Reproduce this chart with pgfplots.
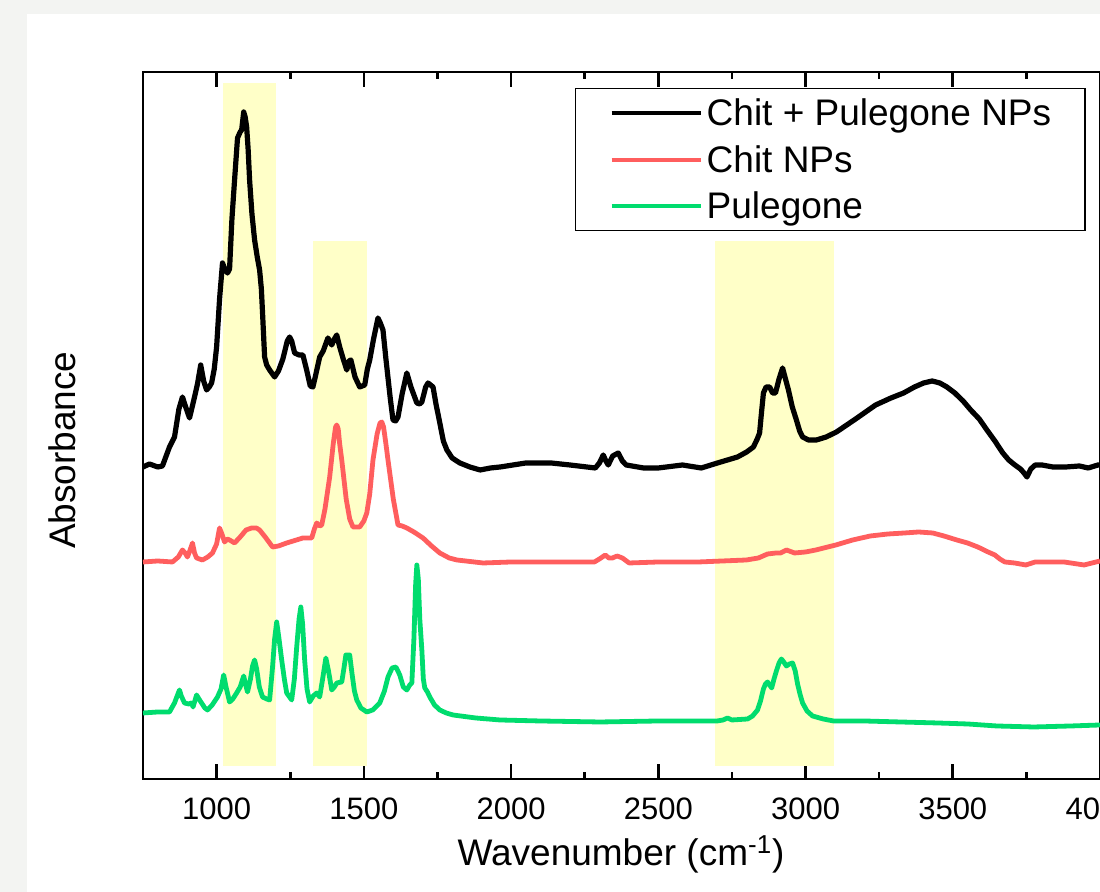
\documentclass[border=0pt]{standalone}
\usepackage{pgfplots}
\pgfplotsset{compat=1.18}
\usepackage{fontspec}
\setmainfont{Liberation Sans}

\definecolor{bggrey}{RGB}{243,244,242}
\definecolor{band}{RGB}{255,255,200}
\definecolor{chitred}{RGB}{255,94,94}
\definecolor{pulgreen}{RGB}{0,220,110}

\begin{document}
\begin{tikzpicture}
\path[use as bounding box] (-71.5pt,-56.5pt) rectangle (478.5pt,389.5pt);
\clip (-71.5pt,-56.5pt) rectangle (478.5pt,389.5pt);
\fill[bggrey] (-71.5pt,-56.5pt) rectangle (478.5pt,389.5pt);
\fill[white] (-58pt,-56.5pt) rectangle (478.5pt,382.5pt);
\begin{axis}[
  at={(0,0)}, anchor=south west,
  scale only axis, width=478.5pt, height=353.5pt,
  xmin=750, xmax=4000, ymin=0, ymax=707,
  axis line style={line width=1.3pt},
  xtick={1000,1500,...,4000}, minor x tick num=1,
  ytick=\empty,
  tick align=inside,
  major tick length=7.5pt, minor tick length=3.5pt,
  every tick/.style={line width=1.3pt, black},
  /pgf/number format/assume math mode=true,
  /pgf/number format/1000 sep={},
  xticklabel style={font=\fontsize{15.5}{18}\selectfont, anchor=base, yshift=-20.5pt},
  xlabel={Wavenumber (cm\textsuperscript{-1})},
  ylabel={Absorbance},
  every axis x label/.style={at={(axis description cs:0.4995,-0.123)}, anchor=base, font=\fontsize{18.5}{22}\selectfont},
  every axis y label/.style={at={(axis description cs:-0.0846,0.465)}, rotate=90, anchor=center, font=\fontsize{18.5}{22}\selectfont},
  legend cell align=left,
  legend image code/.code={\draw[#1, line width=2pt] (0pt,0pt) -- (44.5pt,0pt);},
  legend style={at={(0.4514,0.9774)}, anchor=north west, draw=black, line width=0.75pt,
    font=\fontsize{18.5}{22}\selectfont, inner xsep=17pt, inner ysep=3pt,
    row sep=4.75pt, column sep=2pt,
    nodes={inner sep=0pt, text height=15.5pt, text depth=3pt}},
]
% highlighted regions
\addplot[draw=none, fill=band, forget plot] coordinates {(1020,13) (1020,696) (1200,696) (1200,13)} -- cycle;
\addplot[draw=none, fill=band, forget plot] coordinates {(1326,13) (1326,538) (1510,538) (1510,13)} -- cycle;
\addplot[draw=none, fill=band, forget plot] coordinates {(2692,13) (2692,538) (3098,538) (3098,13)} -- cycle;

% Chit + Pulegone NPs
\addplot[black, line width=2.6pt, line join=round] coordinates {
(750,312) (772,315) (800,312) (816,313) (840,332) (857,342) (872,370) (884,382) (895,372) (908,361)
(917,372) (925,382) (935,395) (946,414) (956,398) (966,389) (975,392) (983,396) (992,410) (1000,432)
(1010,480) (1020,516) (1028,510) (1037,506) (1044,510) (1052,560) (1061,599) (1071,641) (1080,647) (1085,649)
(1092,667) (1097,662) (1102,652) (1107,630) (1112,599) (1120,565) (1129,539) (1138,522) (1146,509) (1152,490)
(1156,466) (1163,422) (1170,414) (1180,409) (1197,402) (1210,408) (1225,420) (1240,438) (1248,442) (1255,438)
(1265,426) (1280,424) (1293,424) (1305,410) (1318,393) (1327,392) (1335,402) (1350,422) (1362,428) (1378,441)
(1391,434) (1400,440) (1408,444) (1418,432) (1430,420) (1442,409) (1450,418) (1456,419) (1470,402) (1486,392)
(1503,394) (1512,410) (1520,419) (1533,440) (1548,461) (1556,456) (1565,449) (1575,420) (1590,380) (1599,359)
(1608,358) (1616,362) (1630,385) (1646,406) (1660,392) (1680,376) (1690,375) (1697,377) (1710,392) (1718,396)
(1735,392) (1745,375) (1758,356) (1770,338) (1782,329) (1800,321) (1826,316) (1860,312) (1895,309) (1930,311)
(1963,312) (2050,316) (2136,316) (2200,314) (2286,311) (2300,316) (2313,324) (2322,318) (2330,314) (2345,323)
(2364,326) (2378,318) (2391,314) (2450,311) (2500,311) (2582,314) (2646,311) (2701,316) (2769,322) (2800,327)
(2823,332) (2836,340) (2844,346) (2850,365) (2857,386) (2866,392) (2878,392) (2888,386) (2898,386) (2910,400)
(2922,411) (2932,400) (2942,389) (2955,372) (2969,359) (2980,348) (2990,342) (3010,339) (3037,339) (3070,342)
(3105,347) (3170,360) (3238,374) (3290,381) (3333,386) (3370,392) (3401,396) (3430,398) (3456,396) (3480,392)
(3507,386) (3535,378) (3561,369) (3590,360) (3616,349) (3643,338) (3670,326) (3690,319) (3711,314) (3730,310)
(3742,306) (3752,302) (3765,310) (3780,314) (3803,314) (3840,312) (3884,312) (3930,313) (3960,311) (3993,314) (4000,314)
};
\addlegendentry{Chit + Pulegone NPs}

% Chit NPs
\addplot[chitred, line width=2.4pt, line join=round] coordinates {
(750,217) (800,218) (850,217) (870,222) (884,229) (893,226) (901,222) (910,229) (918,236) (925,226)
(932,221) (952,219) (970,222) (986,226) (1000,235) (1010,251) (1018,245) (1027,237) (1036,240) (1044,239)
(1061,236) (1080,242) (1100,249) (1119,251) (1135,251) (1146,249) (1165,242) (1190,232) (1210,233) (1238,236)
(1260,238) (1293,241) (1323,241) (1332,250) (1340,256) (1350,253) (1357,254) (1368,270) (1384,302) (1396,335)
(1404,352) (1408,354) (1413,350) (1418,335) (1425,319) (1440,280) (1452,260) (1463,252) (1486,252) (1500,258)
(1510,266) (1520,285) (1531,319) (1545,345) (1555,356) (1561,357) (1567,352) (1575,335) (1582,319) (1600,280)
(1616,254) (1630,253) (1646,251) (1670,247) (1701,241) (1730,233) (1758,226) (1790,221) (1816,219) (1905,216)
(2000,217) (2099,217) (2200,217) (2283,217) (2300,220) (2320,224) (2332,221) (2344,221) (2360,223) (2378,221)
(2401,216) (2500,217) (2636,217) (2799,219) (2840,221) (2871,225) (2900,226) (2915,226) (2935,229) (2963,226)
(3000,227) (3035,229) (3103,234) (3160,239) (3220,243) (3280,245) (3336,246) (3384,247) (3432,246) (3470,243)
(3514,239) (3550,236) (3585,232) (3620,227) (3643,224) (3660,220) (3677,217) (3710,216) (3748,214) (3780,217)
(3806,217) (3878,217) (3946,214) (4000,218)
};
\addlegendentry{Chit NPs}

% Pulegone
\addplot[pulgreen, line width=2.4pt, line join=round] coordinates {
(750,66) (800,67) (840,67) (857,76) (866,83) (874,89) (880,83) (891,76) (905,75) (915,76)
(920,72) (926,78) (932,84) (940,80) (949,76) (960,71) (969,69) (985,74) (1003,82) (1015,90)
(1024,104) (1032,92) (1044,77) (1055,80) (1068,86) (1080,92) (1092,103) (1098,95) (1105,87) (1115,100)
(1122,113) (1129,119) (1136,110) (1145,92) (1156,82) (1170,80) (1180,79) (1190,112) (1197,140) (1204,157)
(1212,140) (1221,119) (1230,100) (1238,86) (1255,79) (1264,100) (1272,132) (1280,160) (1286,172) (1292,155)
(1299,119) (1307,90) (1316,77) (1328,83) (1340,86) (1350,82) (1360,100) (1371,121) (1380,108) (1391,89)
(1400,92) (1408,96) (1425,97) (1432,110) (1439,124) (1452,124) (1460,105) (1468,88) (1476,79) (1490,71)
(1510,67) (1530,69) (1554,76) (1570,88) (1582,102) (1596,111) (1609,112) (1622,104) (1634,92) (1646,89)
(1656,94) (1663,96) (1670,140) (1676,195) (1680,214) (1685,200) (1690,160) (1697,129) (1702,100) (1707,91)
(1716,87) (1724,82) (1740,74) (1758,69) (1780,66) (1803,64) (1880,61) (1963,59) (2100,58) (2303,57)
(2500,58) (2643,58) (2700,58) (2720,59) (2735,61) (2750,59) (2803,60) (2820,63) (2837,69) (2847,78)
(2857,90) (2864,95) (2871,97) (2878,94) (2885,91) (2893,100) (2901,108) (2910,116) (2918,120) (2926,117)
(2935,113) (2945,115) (2956,116) (2965,108) (2973,95) (2982,84) (2990,76) (3005,68) (3024,63) (3060,60)
(3095,58) (3200,58) (3323,57) (3450,56) (3551,55) (3650,53) (3775,52) (3900,53) (4000,54)
};
\addlegendentry{Pulegone}
\end{axis}
\end{tikzpicture}
\end{document}
